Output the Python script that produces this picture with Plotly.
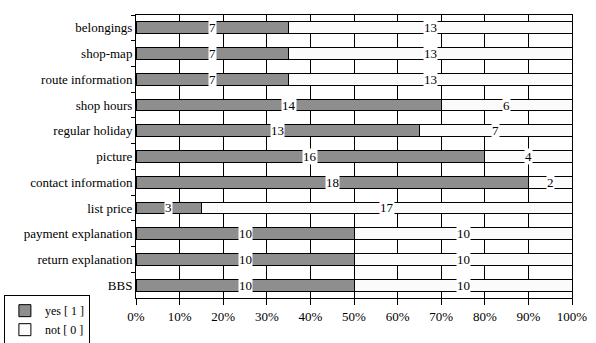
import plotly.graph_objects as go

categories = ["belongings", "shop-map", "route information", "shop hours", "regular holiday",
              "picture", "contact information", "list price", "payment explanation",
              "return explanation", "BBS"]
yes_vals = [7, 7, 7, 14, 13, 16, 18, 3, 10, 10, 10]
not_vals = [13, 13, 13, 6, 7, 4, 2, 17, 10, 10, 10]

FONT = "Liberation Serif"

fig = go.Figure()
fig.add_trace(go.Bar(
    y=categories, x=yes_vals, orientation="h", name="yes [ 1 ]",
    width=0.46,
    marker=dict(color="#8e8e8e", line=dict(color="black", width=1)),
))
fig.add_trace(go.Bar(
    y=categories, x=not_vals, orientation="h", name="not [ 0 ]",
    width=0.46,
    marker=dict(color="#fbfbfb", line=dict(color="black", width=1)),
))

annotations = []
for c, y, n in zip(categories, yes_vals, not_vals):
    tot = y + n
    py = 100.0 * y / tot
    pn = 100.0 * n / tot
    annotations.append(dict(x=py / 2, y=c, text=str(y), showarrow=False, bgcolor="white",
                            borderpad=0, font=dict(family=FONT, size=13, color="black")))
    annotations.append(dict(x=py + pn / 2, y=c, text=str(n), showarrow=False, bgcolor="white",
                            borderpad=0, font=dict(family=FONT, size=13, color="black")))

fig.update_layout(
    barmode="stack", barnorm="percent",
    width=596, height=343,
    margin=dict(l=136, r=24, t=15, b=45, autoexpand=False),
    paper_bgcolor="white", plot_bgcolor="white",
    font=dict(family=FONT, size=13, color="black"),
    annotations=annotations,
    showlegend=True,
    legend=dict(x=-0.303, y=0.01, xanchor="left", yanchor="top",
                bordercolor="black", borderwidth=1, bgcolor="white",
                font=dict(family=FONT, size=12), itemwidth=30,
                tracegroupgap=0, traceorder="normal"),
    xaxis=dict(range=[0, 100], dtick=10, ticksuffix="%",
               showgrid=True, gridcolor="black", gridwidth=1,
               showline=True, linecolor="black", linewidth=1, mirror=True,
               ticks="outside", ticklen=6, tickcolor="black"),
    yaxis=dict(autorange="reversed",
               showline=True, linecolor="black", linewidth=1, mirror=True,
               ticks="outside", ticklen=4, tickcolor="black", tickson="boundaries"),
)

fig.write_html("out.html")
